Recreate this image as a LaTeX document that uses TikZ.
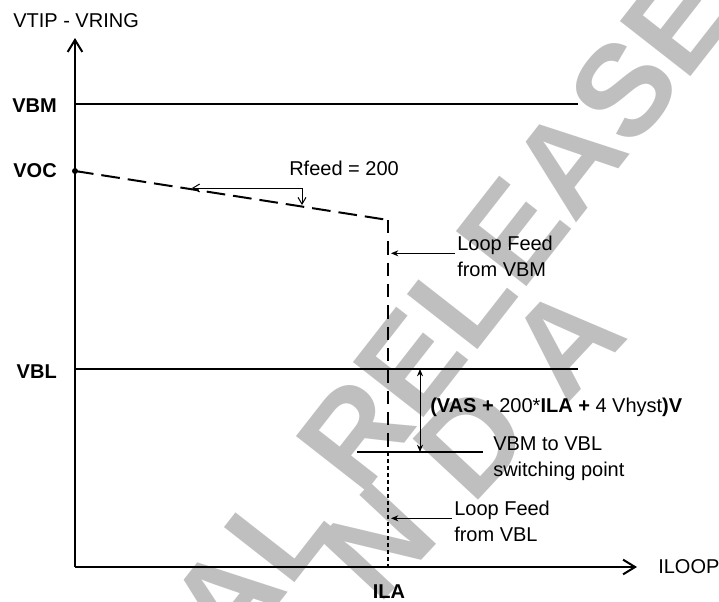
\documentclass[tikz,border=0pt]{standalone}
\usepackage{fontspec}
\setmainfont{Liberation Sans}
\usetikzlibrary{arrows.meta,calc}

\begin{document}
\begin{tikzpicture}[
    x=0.75pt, y=-0.75pt,
    every node/.style={inner sep=0pt, font=\fontsize{15}{19.5}\selectfont},
    axis/.style={
        line width=1.5pt,
        -{Straight Barb[length=9pt,width=11pt]}
    },
    level/.style={line width=1.5pt},
    feedvbm/.style={line width=1.5pt, dash pattern=on 14pt off 6pt},
    feedvbmdown/.style={line width=1.5pt, dash pattern=on 10pt off 6pt},
    feedvbl/.style={line width=1.5pt, dash pattern=on 3pt off 2.25pt},
    pointer/.style={
        line width=0.75pt,
        -{Stealth[length=5.5pt,width=4.5pt]}
    },
    span/.style={
        line width=0.75pt,
        {Stealth[length=5.5pt,width=4.5pt]}-{Stealth[length=5.5pt,width=4.5pt]}
    },
    bracket/.style={
        line width=0.75pt,
        {Straight Barb[length=5pt,width=6pt]}-{Straight Barb[length=5pt,width=6pt]}
    },
    levelname/.style={font=\fontsize{15}{19.5}\selectfont\bfseries, anchor=base east},
    note/.style={align=left, anchor=north west},
    watermark/.style={
        font=\fontsize{97.5}{100}\selectfont\bfseries,
        text=black!25, anchor=base west
    }
]
\useasboundingbox (0,0) rectangle (719,601);

% Filigrana sullo sfondo
\begin{scope}
    \clip (0,0) rectangle (719,601);
    \node[watermark, rotate=52] (wmrelease) at (232,664) {AL RELEASE};
    \node[watermark, rotate=47] (wmnda) at (378,607) {N\hspace{33pt}D\hspace{33pt}A};
\end{scope}

% Punti di riferimento
\coordinate (O) at (75,567);
\coordinate (ytip) at (75,38);
\coordinate (xtip) at (637,567);
\coordinate (vbmend) at (578,104);
\coordinate (vblend) at (578,369);
\coordinate (vocpt) at (75,171);
\coordinate (knee) at (388,220);
\coordinate (swl) at (357,452);
\coordinate (swr) at (483,452);
\coordinate (swpt) at (388,452);
\coordinate (ilapt) at (388,567);

% Assi
\draw[axis] (O) -- (ytip);
\draw[axis] (O) -- (xtip);
\node[anchor=base west] (vtip) at (13,27) {VTIP - VRING};
\node[anchor=base west] (iloop) at (658,573) {ILOOP};

% Livelli di tensione
\node[levelname] (vbm) at (57,112) {VBM};
\node[levelname] (voc) at (57,177) {VOC};
\node[levelname] (vbl) at (57,378) {VBL};
\draw[level] (O |- vbmend) -- (vbmend);
\draw[level] (O |- vblend) -- (vblend);
\draw[level] (swl) -- (swr);

% Caratteristica di alimentazione
\fill (vocpt) circle[radius=2.25pt];
\draw[feedvbm] (vocpt) -- (knee);
\draw[feedvbmdown] (knee) -- (swpt);
\draw[feedvbl] (swpt) -- (ilapt);
\node[anchor=base, font=\fontsize{15}{19.5}\selectfont\bfseries] (ila) at (389,598) {ILA};

% Resistenza di alimentazione
\node[anchor=base west] (rfeed) at (289,175) {Rfeed = 200};
\coordinate (rfl) at (192,188);
\coordinate (rfc) at (302,188);
\coordinate (rfr) at (302,205);
\draw[bracket] (rfl) -- (rfc) -- (rfr);

% Note
\node[note] (notevbm) at (457,235.7) {Loop Feed\\from VBM};
\node[note] (noteswitch) at (493,436.7) {VBM to VBL\\switching point};
\node[note] (notevbl) at (454,500.7) {Loop Feed\\from VBL};
\node[anchor=base west] (vas) at (430,412)
    {\textbf{(VAS +} 200*\textbf{ILA +} 4 Vhyst\textbf{)V}};

\draw[pointer] ($(notevbm.west)+(-2,-3)$) -- ($(notevbm.west -| knee)+(3,-3)$);
\draw[pointer] ($(notevbl.west)+(-2,-3)$) -- ($(notevbl.west -| knee)+(3,-3)$);
\draw[span] (420,369) -- (420,452);

\end{tikzpicture}
\end{document}
